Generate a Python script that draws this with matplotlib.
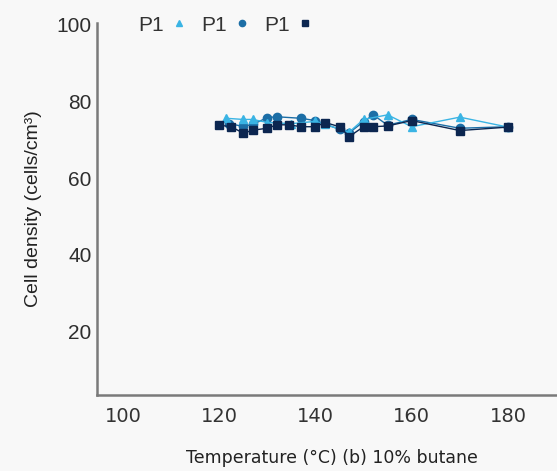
import matplotlib.pyplot as plt

# Temperaturen und Zelldichten der drei Messreihen
temp_navy = [120, 122.5, 125, 127, 130, 132, 134.5, 137, 140, 142, 145, 147, 150, 152, 155, 160, 170, 180]
dens_navy = [73.8, 73.4, 71.7, 72.5, 73.0, 73.9, 73.9, 73.4, 73.4, 74.5, 73.4, 70.8, 73.4, 73.4, 73.6, 75.0, 72.4, 73.3]

temp_blue = [122, 125, 127, 130, 132, 137, 140, 145, 147, 150, 152, 155, 160, 170, 180]
dens_blue = [74.2, 73.5, 74.0, 75.8, 76.0, 75.6, 75.0, 72.7, 71.8, 74.7, 76.5, 73.8, 75.3, 73.0, 73.4]

temp_cyan = [121.5, 125, 127, 130, 135, 140, 142, 147, 150, 155, 160, 170, 180]
dens_cyan = [75.6, 75.3, 75.3, 74.5, 74.2, 74.8, 74.0, 72.0, 75.3, 76.5, 73.4, 75.9, 73.3]

labels = ['P1', 'P1', 'P1']
colors = ['#3ab4e4', '#1c6ea6', '#0c2650']

bg = '#f8f8f8'
fig = plt.figure(figsize=(5.57, 4.71), dpi=100, facecolor=bg)
ax = fig.add_axes([97 / 557, 76 / 471, 460 / 557, 372 / 471], facecolor=bg)

ax.plot(temp_cyan, dens_cyan, marker='^', ms=6, lw=1, color=colors[0], label=labels[0], zorder=3)
ax.plot(temp_blue, dens_blue, marker='o', ms=6, lw=1, color=colors[1], label=labels[1], zorder=2)
ax.plot(temp_navy, dens_navy, marker='s', ms=5.5, lw=1, color=colors[2], label=labels[2], zorder=4)

ax.set_xlim(94.6, 190.2)
ax.set_ylim(3.3, 100.5)
ax.set_xticks([100, 120, 140, 160, 180])
ax.set_yticks([20, 40, 60, 80, 100])

for s in ['top', 'right']:
    ax.spines[s].set_visible(False)
for s in ['left', 'bottom']:
    ax.spines[s].set_color('#7a7a7a')
    ax.spines[s].set_linewidth(1.8)

ax.tick_params(axis='both', length=0)
ax.tick_params(axis='y', pad=4, labelsize=15, labelcolor='#2e2e2e')
ax.tick_params(axis='x', pad=9, labelsize=14, labelcolor='#333333')
for t in ax.get_yticklabels():
    t.set_family('Liberation Sans')
for t in ax.get_xticklabels():
    t.set_family('DejaVu Sans')

ax.set_xlabel('Temperature (°C) (b) 10% butane', family='DejaVu Sans', fontsize=12.5,
              color='#222222')
ax.xaxis.set_label_coords(0.511, -0.145)
ax.set_ylabel('Cell density (cells/cm³)', family='Liberation Sans', fontsize=14,
              color='#222222', labelpad=10)

leg = ax.legend(loc='upper left', bbox_to_anchor=(0.05, 1.07), ncol=3, frameon=False,
                markerfirst=False, handlelength=0.8, handletextpad=0.32, columnspacing=0.66,
                markerscale=0.75, prop={'family': 'Liberation Sans', 'size': 15})
for t in leg.get_texts():
    t.set_color('#333333')
for h in leg.legend_handles:
    h.set_linestyle('none')

fig.savefig('out.png', dpi=100, facecolor=bg)
